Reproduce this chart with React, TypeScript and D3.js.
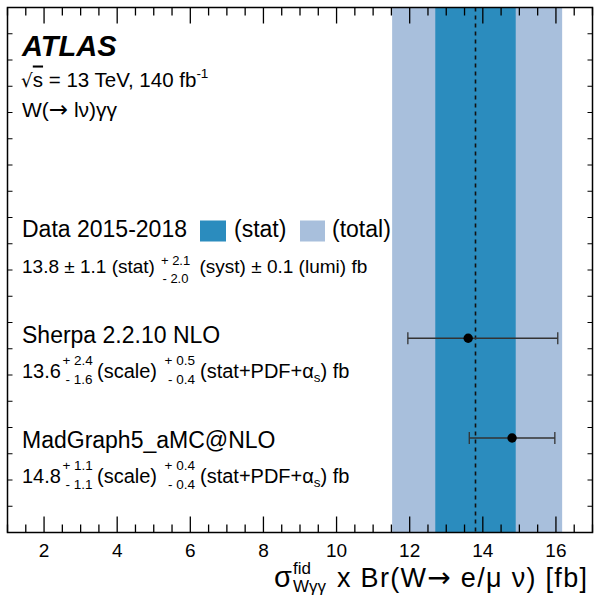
import { useRef, useEffect } from "react";
import * as d3 from "d3";

const width = 594;
const height = 604;

// x axis
const xDomain = [1, 17];
const xTicks = [2, 4, 6, 8, 10, 12, 14, 16];

// measurement
const dataValue = 13.8;
const statErr = [1.1, 1.1]; // down, up
const totalErr = [2.28, 2.37]; // down, up

// predictions
const predNames = ["Sherpa 2.2.10 NLO", "MadGraph5_aMC@NLO"];
const predValues = [13.6, 14.8];
const predErrDown = [1.65, 1.17];
const predErrUp = [2.45, 1.17];
const predRows = [3.7, 1.8];
const scaleUp = ["+ 2.4", "+ 1.1"];
const scaleDn = ["- 1.6", "- 1.1"];
const pdfUp = ["+ 0.5", "+ 0.4"];
const pdfDn = ["- 0.4", "- 0.4"];

const FONT = "'Liberation Sans', Arial, Helvetica, sans-serif";
const ARROW_FONT = "'DejaVu Sans', sans-serif";

const App = () => {
  const svgRef = useRef<SVGSVGElement | null>(null);

  useEffect(() => {
    if (!svgRef.current) return;
    const svg = d3.select(svgRef.current);
    svg.selectAll("*").remove();

    const margin = { top: 7.5, right: 1.5, bottom: 71.5, left: 7.5 };
    const x0 = margin.left;
    const x1 = width - margin.right;
    const y0 = margin.top;
    const y1 = height - margin.bottom;

    const xScale = d3.scaleLinear().domain(xDomain).range([x0, x1]);
    const yScale = d3.scaleLinear().domain([0, 10]).range([y1, y0]);

    svg.attr("font-family", FONT);

    // total band
    svg.append("rect")
      .attr("x", xScale(dataValue - totalErr[0]))
      .attr("y", y0)
      .attr("width", xScale(dataValue + totalErr[1]) - xScale(dataValue - totalErr[0]))
      .attr("height", y1 - y0)
      .attr("fill", "#a8bfdc");

    // stat band
    svg.append("rect")
      .attr("x", xScale(dataValue - statErr[0]))
      .attr("y", y0)
      .attr("width", xScale(dataValue + statErr[1]) - xScale(dataValue - statErr[0]))
      .attr("height", y1 - y0)
      .attr("fill", "#2b8cbe");

    // central value
    svg.append("line")
      .attr("x1", xScale(dataValue)).attr("x2", xScale(dataValue))
      .attr("y1", y0).attr("y2", y1)
      .attr("stroke", "#111")
      .attr("stroke-width", 1.6)
      .attr("stroke-dasharray", "4,4");

    // ticks on x (bottom + top)
    const xt = d3.range(xDomain[0], xDomain[1] + 0.01, 0.5);
    xt.forEach((v) => {
      const major = xTicks.includes(v);
      const len = major ? 16 : 8;
      const px = xScale(v);
      svg.append("line")
        .attr("x1", px).attr("x2", px)
        .attr("y1", y1).attr("y2", y1 - len)
        .attr("stroke", "#000").attr("stroke-width", 1.3);
      svg.append("line")
        .attr("x1", px).attr("x2", px)
        .attr("y1", y0).attr("y2", y0 + len)
        .attr("stroke", "#000").attr("stroke-width", 1.3);
    });

    // ticks on y (left + right), no labels
    d3.range(0.5, 10, 0.5).forEach((v) => {
      const py = yScale(v);
      svg.append("line")
        .attr("x1", x0).attr("x2", x0 + 5)
        .attr("y1", py).attr("y2", py)
        .attr("stroke", "#000").attr("stroke-width", 1);
      svg.append("line")
        .attr("x1", x1).attr("x2", x1 - 5)
        .attr("y1", py).attr("y2", py)
        .attr("stroke", "#000").attr("stroke-width", 1);
    });

    // tick labels
    svg.append("g")
      .selectAll("text")
      .data(xTicks)
      .enter()
      .append("text")
      .attr("x", (d) => xScale(d))
      .attr("y", y1 + 24)
      .attr("text-anchor", "middle")
      .attr("font-size", 19)
      .text((d) => d);

    // frame
    svg.append("rect")
      .attr("x", x0).attr("y", y0)
      .attr("width", x1 - x0).attr("height", y1 - y0)
      .attr("fill", "none")
      .attr("stroke", "#000")
      .attr("stroke-width", 1.5);

    // predictions
    const preds = predNames.map((name, i) => ({
      name,
      value: predValues[i],
      lo: predValues[i] - predErrDown[i],
      hi: predValues[i] + predErrUp[i],
      row: predRows[i],
    }));

    const pg = svg.append("g");
    pg.selectAll("line.err")
      .data(preds)
      .enter()
      .append("line")
      .attr("x1", (d) => xScale(d.lo))
      .attr("x2", (d) => xScale(d.hi))
      .attr("y1", (d) => yScale(d.row))
      .attr("y2", (d) => yScale(d.row))
      .attr("stroke", "#333")
      .attr("stroke-width", 1.3);
    ["lo", "hi"].forEach((k) => {
      pg.selectAll(`line.cap-${k}`)
        .data(preds)
        .enter()
        .append("line")
        .attr("x1", (d) => xScale(d[k as "lo" | "hi"]))
        .attr("x2", (d) => xScale(d[k as "lo" | "hi"]))
        .attr("y1", (d) => yScale(d.row) - 6)
        .attr("y2", (d) => yScale(d.row) + 6)
        .attr("stroke", "#333")
        .attr("stroke-width", 1.3);
    });
    pg.selectAll("circle")
      .data(preds)
      .enter()
      .append("circle")
      .attr("cx", (d) => xScale(d.value))
      .attr("cy", (d) => yScale(d.row))
      .attr("r", 4.7)
      .attr("fill", "#000");

    // helper for text
    const txt = (
      s: string,
      x: number,
      y: number,
      size: number,
      anchor = "start"
    ) =>
      svg.append("text")
        .attr("x", x)
        .attr("y", y)
        .attr("font-size", size)
        .attr("text-anchor", anchor)
        .text(s);
    const len = (t: d3.Selection<SVGTextElement, unknown, null, undefined>) =>
      (t.node() as SVGTextElement).getComputedTextLength();

    // ATLAS label
    txt("ATLAS", 22, 56, 29)
      .attr("font-weight", "bold")
      .attr("font-style", "italic");

    const sq = svg.append("text").attr("x", 21).attr("y", 86.5).attr("font-size", 20.5);
    sq.append("tspan").attr("font-family", ARROW_FONT).attr("font-size", 18.5).text("\u221A");
    sq.append("tspan").attr("text-decoration", "overline").text("s");
    sq.append("tspan").text(" = 13 TeV, 140 fb");
    sq.append("tspan").attr("font-size", 13.5).attr("dy", -9).text("-1");

    const wl = svg.append("text").attr("x", 22).attr("y", 116.5).attr("font-size", 21);
    wl.append("tspan").text("W(");
    wl.append("tspan").attr("font-family", ARROW_FONT).attr("font-size", 23).text("\u2192");
    wl.append("tspan").text(" l\u03BD)\u03B3\u03B3");

    // measurement legend
    txt("Data 2015-2018", 22, 236.5, 23);
    svg.append("rect").attr("x", 200).attr("y", 220.5).attr("width", 26).attr("height", 21).attr("fill", "#2b8cbe");
    txt("(stat)", 234, 236.5, 23);
    svg.append("rect").attr("x", 300).attr("y", 220.5).attr("width", 25).attr("height", 21).attr("fill", "#a8bfdc");
    txt("(total)", 332, 236.5, 23);

    const dl = txt("13.8 \u00B1 1.1 (stat)", 22, 273.3, 19);
    const dsx = 22 + len(dl) + 6;
    txt("+ 2.1", dsx, 265, 13);
    txt("- 2.0", dsx + 1.5, 283.3, 13);
    txt("(syst) \u00B1 0.1 (lumi) fb", 199.5, 273.3, 19);

    // prediction labels
    const predLabelY = [342.7, 447.7];
    const predLineY = [378.3, 483.3];
    preds.forEach((p, i) => {
      const by = predLineY[i];
      txt(p.name, 22, predLabelY[i], 23);
      const v = txt(String(p.value), 22, by, 20);
      const sx = 22 + len(v) + 1.5;
      txt(scaleUp[i], sx, by - 13, 13.5);
      txt(scaleDn[i], sx + 3, by + 6, 13.5);
      txt("(scale)", 157, by, 20, "end");
      txt(pdfUp[i], 195, by - 13, 13.5, "end");
      txt(pdfDn[i], 195, by + 6, 13.5, "end");
      const t = txt("(stat+PDF+", 200, by, 20);
      t.append("tspan").text("\u03B1");
      t.append("tspan").attr("font-size", 13.5).attr("dy", 4).text("s");
      t.append("tspan").attr("dy", -4).text(") fb");
    });

    // axis title
    txt("\u03C3", 274, 587, 29);
    txt("fid", 293, 574, 17);
    txt("W\u03B3\u03B3", 293, 592, 17);
    const at = svg.append("text")
      .attr("x", 337)
      .attr("y", 587)
      .attr("font-size", 27)
      .attr("textLength", 250)
      .attr("lengthAdjust", "spacing");
    at.append("tspan").text("x Br(W");
    at.append("tspan").attr("font-family", ARROW_FONT).attr("font-size", 28).text("\u2192");
    at.append("tspan").text(" e/\u03BC \u03BD) [fb]");
  }, []);

  return (
    <div style={{ position: "absolute", left: 0, top: 0 }}>
      <svg ref={svgRef} width={width} height={height}></svg>
    </div>
  );
};

export default App;
